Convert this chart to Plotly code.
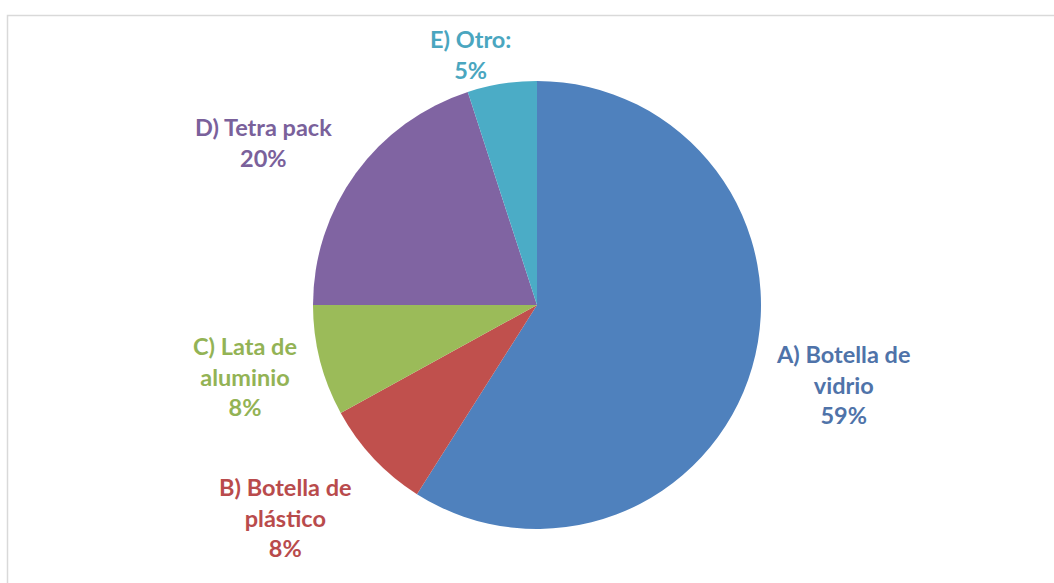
import plotly.graph_objects as go

# Packaging type shares
categories = ["A) Botella de vidrio", "B) Botella de plástico", "C) Lata de aluminio",
              "D) Tetra pack", "E) Otro:"]
label_lines = [["A) Botella de", "vidrio"], ["B) Botella de", "plástico"],
               ["C) Lata de", "aluminio"], ["D) Tetra pack"], ["E) Otro:"]]
values = [59, 8, 8, 20, 5]

slice_colors = ["#4F81BD", "#C0504D", "#9BBB59", "#8064A2", "#4BACC6"]
text_colors = ["#4F73A9", "#B94B4C", "#93B355", "#7A619B", "#4AA6BF"]

W, H = 1054, 583
cx, cy, r = 537, 305, 224

# label anchor positions (pixel centers of each text block)
label_pos = [(843, 384), (285, 517), (245, 376), (263, 143), (470, 54)]

fig = go.Figure(go.Pie(
    labels=categories,
    values=values,
    sort=False,
    direction="clockwise",
    rotation=0,
    marker=dict(colors=slice_colors, line=dict(width=0)),
    textinfo="none",
    hoverinfo="label+percent",
    showlegend=False,
    domain=dict(x=[(cx - r) / W, (cx + r) / W],
                y=[1 - (cy + r) / H, 1 - (cy - r) / H]),
))

total = sum(values)
for lines, v, col, (lx, ly) in zip(label_lines, values, text_colors, label_pos):
    txt = "<br>".join(lines + [f"{round(100 * v / total)}%"])
    fig.add_annotation(
        x=lx / W, y=1 - ly / H, xref="paper", yref="paper",
        text=txt, showarrow=False, align="center",
        xanchor="center", yanchor="middle",
        font=dict(family="Lato", size=23.5, color=col, weight="bold"),
    )

# chart frame
fig.add_shape(type="rect", xref="paper", yref="paper",
              x0=7.5 / W, y0=-0.02, x1=1.02, y1=1 - 15.5 / H,
              line=dict(color="#D9D9D9", width=1.5), layer="below")

fig.update_layout(
    width=W, height=H,
    margin=dict(l=0, r=0, t=0, b=0),
    paper_bgcolor="white",
    plot_bgcolor="white",
)

fig.write_html("out.html")
